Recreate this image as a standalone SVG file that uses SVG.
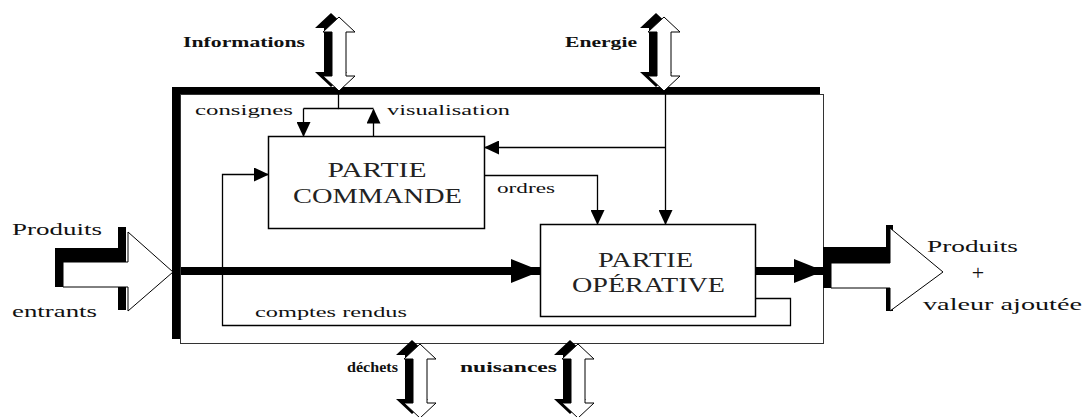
<svg xmlns="http://www.w3.org/2000/svg" width="1088" height="417" viewBox="0 0 1088 417">
<style>
  text { font-family: "Liberation Serif", "DejaVu Serif", "Times New Roman", serif; fill: #111; }
  .b { font-weight: bold; font-size: 15px; }
  .s { font-size: 14px; }
  .m { font-size: 17px; }
  .box { font-size: 20px; fill: #222; }
  .ln { fill: none; stroke: #000; stroke-width: 1.3; }
  .thick { fill: none; stroke: #000; stroke-width: 8; }
  .wa { fill: #fff; stroke: #000; stroke-width: 1; }
  .sh { fill: #000; }
  .nb { fill: #fff; stroke: #000; stroke-width: 1.5; }
</style>
<defs>
  <marker id="ah" markerUnits="userSpaceOnUse" markerWidth="15" markerHeight="14" viewBox="0 0 15 14" refX="14" refY="7" orient="auto">
    <path d="M0,0 L15,7 L0,14 Z" fill="#000"/>
  </marker>
  <marker id="big" markerUnits="userSpaceOnUse" markerWidth="30" markerHeight="24" viewBox="0 0 30 24" refX="29" refY="12" orient="auto">
    <path d="M0,0 L30,12 L0,24 Z" fill="#000"/>
  </marker>
  <g id="dbl">
    <path class="sh" transform="translate(-8,-4)" d="M0,0 L16,15 L7,15 L7,59 L16,59 L0,74 L-16,59 L-7,59 L-7,15 L-16,15 Z"/>
    <path class="wa" d="M0,0 L16,15 L7,15 L7,59 L16,59 L0,74 L-16,59 L-7,59 L-7,15 L-16,15 Z"/>
  </g>
</defs>
<rect width="1088" height="417" fill="#fff"/>

<g id="frame">
  <rect x="172" y="87" width="648" height="252" fill="#000"/>
  <rect x="180.5" y="94.5" width="643" height="249" fill="#fff" stroke="#333" stroke-width="1"/>
</g>

<g id="informations">
  <use href="#dbl" x="339" y="17"/>
  <text class="b" x="183" y="47" textLength="122" lengthAdjust="spacingAndGlyphs" font-family="Liberation Serif, DejaVu Serif, serif">Informations</text>
</g>
<g id="energie">
  <use href="#dbl" x="664" y="17"/>
  <text class="b" x="565" y="47" textLength="72" lengthAdjust="spacingAndGlyphs" font-family="Liberation Serif, DejaVu Serif, serif">Energie</text>
</g>
<g id="dechets">
  <use href="#dbl" x="420" y="344"/>
  <text class="b" x="347" y="372" textLength="51" lengthAdjust="spacingAndGlyphs" font-family="Liberation Serif, DejaVu Serif, serif">déchets</text>
</g>
<g id="nuisances">
  <use href="#dbl" x="578" y="344"/>
  <text class="b" x="460" y="372" textLength="97" lengthAdjust="spacingAndGlyphs" font-family="Liberation Serif, DejaVu Serif, serif">nuisances</text>
</g>

<g id="produits-entrants">
  <path class="sh" d="M55,248 H118 V227 H126 V310 H118 V287 H55 Z"/>
  <path class="wa" d="M63,262 H128 V232 L173,272 L128,311 V287 H63 Z"/>
  <text class="m" x="12" y="235" textLength="90" lengthAdjust="spacingAndGlyphs" font-family="Liberation Serif, DejaVu Serif, serif">Produits</text>
  <text class="m" x="12" y="317" textLength="85" lengthAdjust="spacingAndGlyphs" font-family="Liberation Serif, DejaVu Serif, serif">entrants</text>
</g>

<g id="produits-sortants">
  <path class="sh" d="M823,247 H886 V225 H893 V311 H886 V288 H823 Z"/>
  <path class="wa" d="M831,263 H890 V228 L943,272 L890,311 V288 H831 Z"/>
  <text class="m" x="927" y="252" textLength="91" lengthAdjust="spacingAndGlyphs" font-family="Liberation Serif, DejaVu Serif, serif">Produits</text>
  <text x="978" y="280" font-size="22" text-anchor="middle" font-family="Liberation Serif, DejaVu Serif, serif">+</text>
  <text class="m" x="923" y="310" textLength="159" lengthAdjust="spacingAndGlyphs" font-family="Liberation Serif, DejaVu Serif, serif">valeur ajoutée</text>
</g>

<g id="partie-commande">
  <rect class="nb" x="268.5" y="136.5" width="216" height="92"/>
  <text class="box" x="377" y="177" text-anchor="middle" textLength="99" lengthAdjust="spacingAndGlyphs" font-family="Liberation Serif, DejaVu Serif, serif">PARTIE</text>
  <text class="box" x="377.5" y="203" text-anchor="middle" textLength="169" lengthAdjust="spacingAndGlyphs" font-family="Liberation Serif, DejaVu Serif, serif">COMMANDE</text>
</g>

<g id="partie-operative">
  <rect class="nb" x="540.5" y="224.5" width="215" height="92"/>
  <text class="box" x="645.5" y="267" text-anchor="middle" textLength="95" lengthAdjust="spacingAndGlyphs" font-family="Liberation Serif, DejaVu Serif, serif">PARTIE</text>
  <text class="box" x="648.5" y="292" text-anchor="middle" textLength="153" lengthAdjust="spacingAndGlyphs" font-family="Liberation Serif, DejaVu Serif, serif">OPÉRATIVE</text>
</g>

<g id="connectors">
  <path class="ln" d="M338.5,90 V108.5 H373.5"/>
  <path class="ln" d="M303.5,108.5 H338.5"/>
  <path class="ln" d="M303.5,108.5 V136" marker-end="url(#ah)"/>
  <path class="ln" d="M373.5,136 V109.5" marker-end="url(#ah)"/>
  <path class="ln" d="M665.5,90 V224" marker-end="url(#ah)"/>
  <path class="ln" d="M665.5,147.5 H485" marker-end="url(#ah)"/>
  <path class="ln" d="M485,175.5 H597.5 V224" marker-end="url(#ah)"/>
  <path class="ln" d="M756,298.5 H790.5 V325.5 H222.5 V174.5 H268" marker-end="url(#ah)"/>
  <path class="thick" d="M181,271 H540" marker-end="url(#big)"/>
  <path class="thick" d="M756,271 H823" marker-end="url(#big)"/>
  <text class="s" x="195" y="115" textLength="98" lengthAdjust="spacingAndGlyphs" font-family="Liberation Serif, DejaVu Serif, serif">consignes</text>
  <text class="s" x="387" y="115" textLength="123" lengthAdjust="spacingAndGlyphs" font-family="Liberation Serif, DejaVu Serif, serif">visualisation</text>
  <text class="s" x="497" y="193" textLength="58" lengthAdjust="spacingAndGlyphs" font-family="Liberation Serif, DejaVu Serif, serif">ordres</text>
  <text class="s" x="255" y="317" textLength="152" lengthAdjust="spacingAndGlyphs" font-family="Liberation Serif, DejaVu Serif, serif">comptes rendus</text>
</g>
</svg>
